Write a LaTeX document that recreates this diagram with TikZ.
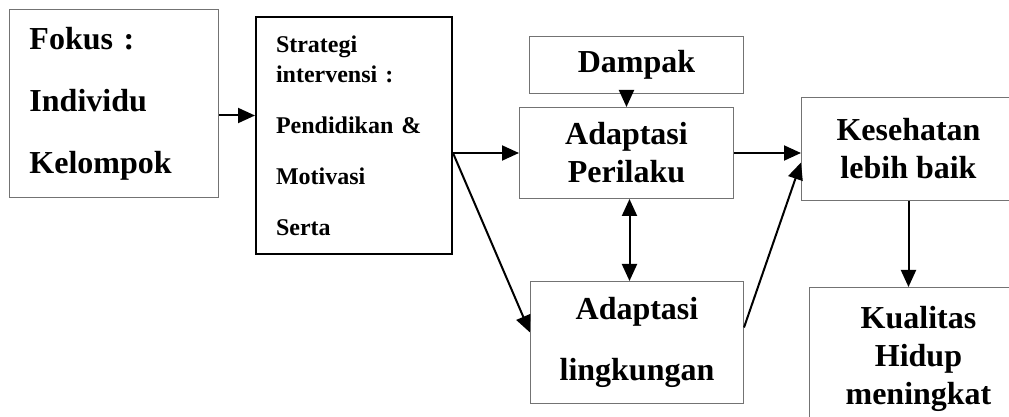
\documentclass[tikz,border=0pt]{standalone}
\usepackage{fontspec}
\setmainfont{Liberation Serif}
\usetikzlibrary{arrows.meta}

\begin{document}
\begin{tikzpicture}[x=0.5pt,y=-0.5pt,
    box/.style={draw=black!55,line width=0.5pt,inner sep=0pt,anchor=north west,align=center,
      font=\fontsize{16}{19}\selectfont\bfseries},
    tip/.tip={Triangle[length=8.5pt,width=7.5pt]},
    arr/.style={line width=1pt,-tip}]
  \useasboundingbox (0,0) rectangle (1009,417);
  \clip (0,0) rectangle (1009,417);
  % left: focus and strategy
  \node[box,minimum width=104.5pt,minimum height=94pt,text width=84.5pt,align=left,
    font=\fontsize{16}{31}\selectfont\bfseries] (fokus) at (9,9) {Fokus :\\Individu\\Kelompok};
  \node[box,draw=black,line width=1pt,minimum width=98pt,minimum height=118.5pt,text width=78pt,align=left,
    font=\fontsize{12}{15}\selectfont\bfseries] (strat) at (255,16)
    {Strategi\\intervensi :\\[10.5pt]Pendidikan \&\\[10.5pt]Motivasi\\[10.5pt]Serta};
  % middle: impact and adaptations
  \node[box,minimum width=107pt,minimum height=28.5pt] (dampak) at (529,36) {Dampak};
  \node[box,minimum width=107pt,minimum height=45.5pt] (perilaku) at (519,107) {Adaptasi\\Perilaku};
  \node[box,minimum width=106.5pt,minimum height=61pt,font=\fontsize{16}{30.5}\selectfont\bfseries]
    (lingkungan) at (530,281) {Adaptasi\\lingkungan};
  % right: outcomes (cut off by the page edge)
  \node[box,minimum width=107pt,minimum height=51.5pt] (sehat) at (801,97) {Kesehatan\\lebih baik};
  \node[box,minimum width=109pt,minimum height=71.5pt] (kualitas) at (809,287) {Kualitas\\Hidup\\meningkat};
  % connectors
  \draw[arr] ([yshift=-6pt]fokus.east) -- ([yshift=-6pt]fokus.east -| strat.west);
  \draw[arr] (perilaku.west -| strat.east) -- (perilaku.west);
  \draw[arr] (perilaku.west -| strat.east) -- ([yshift=5pt]lingkungan.west);
  \draw[arr] (perilaku.north |- dampak.south) -- (perilaku.north);
  \draw[arr,tip-tip] ([xshift=1.5pt]perilaku.south) -- ([xshift=1.5pt]perilaku.south |- lingkungan.north);
  \draw[arr] (perilaku.east) -- (perilaku.east -| sehat.west);
  \draw[arr] ([yshift=7.5pt]lingkungan.east) -- ([yshift=-6.75pt]sehat.west);
  \draw[arr] (sehat.south) -- (sehat.south |- kualitas.north);
\end{tikzpicture}
\end{document}
